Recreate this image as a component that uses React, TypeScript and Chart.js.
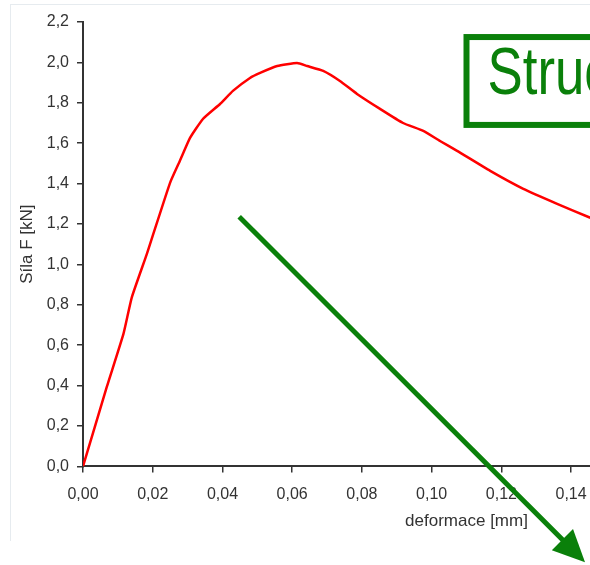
import React, { useEffect, useRef } from "react";
import { Chart, registerables } from "chart.js";

Chart.register(...registerables);

// deformation [mm]
const deformation = [
  0, 0.0068, 0.0116, 0.014, 0.0183, 0.0201, 0.025, 0.0278, 0.0307, 0.0344,
  0.0393, 0.043, 0.0479, 0.0508, 0.0557, 0.0614, 0.0643, 0.0689, 0.0737,
  0.0786, 0.0852, 0.0918, 0.0976, 0.1024, 0.1073, 0.1168, 0.1263, 0.136,
  0.1455,
];
// force F [kN]
const force = [
  0, 0.392, 0.656, 0.837, 1.051, 1.147, 1.405, 1.513, 1.626, 1.72, 1.794,
  1.859, 1.923, 1.948, 1.982, 1.997, 1.982, 1.958, 1.908, 1.844, 1.77, 1.7,
  1.661, 1.611, 1.562, 1.463, 1.374, 1.3, 1.231,
];

const xTitle = "deformace [mm]";
const yTitle = "Síla F [kN]";
const xMin = 0;
const xMax = 0.22;
const xStep = 0.02;
const yMin = 0;
const yMax = 2.2;
const yStep = 0.2;

// overlay annotation (data coordinates)
const arrowFrom = [0.0448, 1.236];
const arrowTo = [0.144, -0.4745];
const boxLeft = 0.11;
const boxRight = 0.2;
const boxTop = 2.1255;
const boxBottom = 1.6905;
const boxText = "Struc";

const GREEN = "#0a800a";
const AXIS = "#333333";
const FONT = "'Liberation Sans', Arial, sans-serif";

const overlayPlugin = {
  id: "overlay",
  afterDraw(chart: any) {
    const { ctx, scales } = chart;
    const x = scales.x;
    const y = scales.y;
    ctx.save();
    // box
    const bx = x.getPixelForValue(boxLeft);
    const br = x.getPixelForValue(boxRight);
    const bt = y.getPixelForValue(boxTop);
    const bb = y.getPixelForValue(boxBottom);
    ctx.strokeStyle = GREEN;
    ctx.lineWidth = 6;
    ctx.strokeRect(bx, bt, br - bx, bb - bt);
    ctx.save();
    ctx.translate(bx + 21, bt + 57);
    ctx.scale(0.8, 1);
    ctx.font = `66px ${FONT}`;
    ctx.fillStyle = GREEN;
    ctx.textBaseline = "alphabetic";
    ctx.fillText(boxText, 0, 0);
    ctx.restore();

    // arrow
    const x1 = x.getPixelForValue(arrowFrom[0]);
    const y1 = y.getPixelForValue(arrowFrom[1]);
    const x2 = x.getPixelForValue(arrowTo[0]);
    const y2 = y.getPixelForValue(arrowTo[1]);
    const ang = Math.atan2(y2 - y1, x2 - x1);
    const headLen = 32;
    const headHalf = 15;
    const hx = x2 - headLen * Math.cos(ang);
    const hy = y2 - headLen * Math.sin(ang);
    ctx.lineWidth = 5;
    ctx.lineCap = "butt";
    ctx.beginPath();
    ctx.moveTo(x1, y1);
    ctx.lineTo(hx + 2 * Math.cos(ang), hy + 2 * Math.sin(ang));
    ctx.stroke();
    ctx.fillStyle = GREEN;
    ctx.beginPath();
    ctx.moveTo(x2, y2);
    ctx.lineTo(hx + headHalf * Math.sin(ang), hy - headHalf * Math.cos(ang));
    ctx.lineTo(hx - headHalf * Math.sin(ang), hy + headHalf * Math.cos(ang));
    ctx.closePath();
    ctx.fill();
    ctx.restore();
  },
};

export default function App() {
  const canvasRef = useRef<HTMLCanvasElement | null>(null);

  useEffect(() => {
    const canvas = canvasRef.current;
    if (!canvas) return;
    const points = deformation.map((d, i) => ({ x: d, y: force[i] }));
    const chart = new Chart(canvas, {
      type: "line",
      data: {
        datasets: [
          {
            data: points,
            borderColor: "#ff0000",
            borderWidth: 2.5,
            pointRadius: 0,
            tension: 0.15,
            fill: false,
          },
        ],
      },
      options: {
        animation: false,
        responsive: false,
        devicePixelRatio: 1,
        layout: { padding: { left: 0, top: 22, right: 30, bottom: 33 } },
        plugins: {
          legend: { display: false },
          tooltip: { enabled: false },
        },
        scales: {
          x: {
            type: "linear",
            min: xMin,
            max: xMax,
            grid: {
              display: true,
              drawOnChartArea: false,
              drawTicks: true,
              tickLength: 6,
              color: AXIS,
              lineWidth: 1.5,
            },
            border: { display: true, color: AXIS, width: 2 },
            ticks: {
              stepSize: xStep,
              padding: 13,
              color: AXIS,
              font: { family: FONT, size: 16 },
              maxRotation: 0,
              autoSkip: false,
              callback: (v: any) => Number(v).toFixed(2).replace(".", ","),
            },
            title: {
              display: true,
              text: xTitle,
              color: AXIS,
              font: { family: FONT, size: 17 },
              padding: { top: -6, bottom: 0 },
            },
          },
          y: {
            type: "linear",
            min: yMin,
            max: yMax,
            afterFit: (s: any) => {
              s.width = 83;
            },
            grid: {
              display: true,
              drawOnChartArea: false,
              drawTicks: true,
              tickLength: 6,
              color: AXIS,
              lineWidth: 1.5,
            },
            border: { display: true, color: AXIS, width: 2 },
            ticks: {
              stepSize: yStep,
              padding: 8,
              color: AXIS,
              font: { family: FONT, size: 16 },
              autoSkip: false,
              callback: (v: any) => Number(v).toFixed(1).replace(".", ","),
            },
            title: {
              display: true,
              text: yTitle,
              color: AXIS,
              font: { family: FONT, size: 17 },
              padding: { top: 17, bottom: 0 },
            },
          },
        },
      },
      plugins: [overlayPlugin],
    });
    return () => chart.destroy();
  }, []);

  return (
    <div
      style={{
        position: "absolute",
        left: 0,
        top: 0,
        width: 590,
        height: 565,
        overflow: "hidden",
        background: "#ffffff",
      }}
    >
      <div
        style={{
          position: "absolute",
          left: 10,
          top: 4,
          width: 700,
          height: 536,
          borderTop: "1px solid #e6ebef",
          borderLeft: "1px solid #e6ebef",
        }}
      />
      <canvas
        ref={canvasRef}
        width={880}
        height={565}
        style={{ position: "absolute", left: 0, top: 0, width: 880, height: 565 }}
      />
    </div>
  );
}
